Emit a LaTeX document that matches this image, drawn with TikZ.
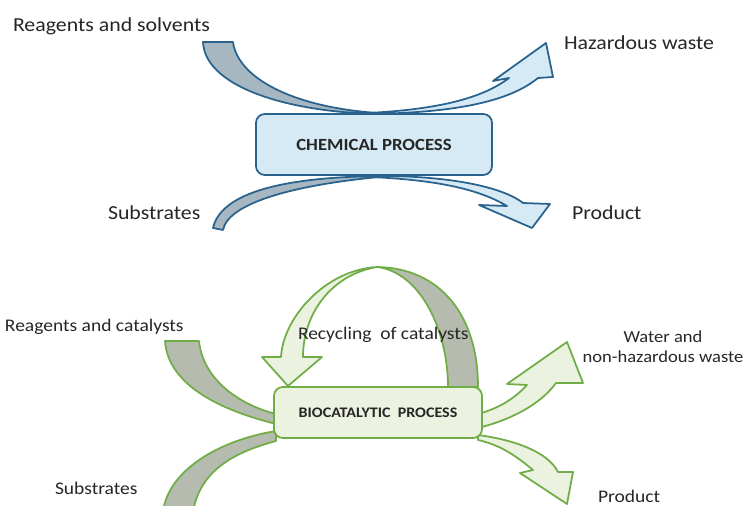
\documentclass[tikz,border=0pt]{standalone}
\usepackage{fontspec}
\setmainfont{Carlito}[FakeStretch=1.1]
\definecolor{chemline}{RGB}{41,98,140}
\definecolor{chemfill}{RGB}{214,234,246}
\definecolor{chemgrey}{RGB}{166,183,194}
\definecolor{bioline}{RGB}{112,173,71}
\definecolor{biofill}{RGB}{236,242,224}
\definecolor{biogrey}{RGB}{182,187,175}
\definecolor{labeltext}{RGB}{38,38,38}

\begin{document}
\begin{tikzpicture}[
	x=0.02cm, y=-0.02cm,
	chemarrow/.style={draw=chemline, fill=chemfill, line width=1pt, line join=round},
	chemband/.style={draw=chemline, fill=chemgrey, line width=1pt, line join=round},
	bioarrow/.style={draw=bioline, fill=biofill, line width=1pt, line join=round},
	bioband/.style={draw=bioline, fill=biogrey, line width=1pt, line join=round},
	process/.style={rectangle, rounded corners=5pt, line width=1pt, inner sep=0pt},
	every node/.style={outer sep=0pt, text=labeltext},
]
\useasboundingbox (0,0) rectangle (748,506);
% Input 1: node name, input 2: base west point.
\def\toplabel(#1)#2#3{
	\node[anchor=base west, inner sep=0pt, font=\fontsize{11.3}{13}\selectfont]
		(#1) at #2 {#3};
}
\def\botlabel(#1)#2#3{
	\node[anchor=base west, inner sep=0pt, font=\fontsize{10.1}{12}\selectfont]
		(#1) at #2 {#3};
}

	% chemical process: incoming and outgoing flows
	\path[chemband] (203,42) -- (233,42)
		.. controls (238,80) and (300,112) .. (400,114)
		.. controls (300,116) and (205,90) .. (203,42) -- cycle;
	\path[chemarrow] (340,114)
		.. controls (430,112) and (480,100) .. (509,78)
		-- (493,81) -- (546,43) -- (553,77) -- (538,78)
		.. controls (505,105) and (440,115) .. (340,114) -- cycle;
	\path[chemband] (213,228) -- (223,230)
		.. controls (228,203) and (295,184) .. (390,176)
		.. controls (300,176) and (222,188) .. (213,228) -- cycle;
	\path[chemarrow] (370,176)
		.. controls (440,175) and (500,185) .. (523,203)
		-- (550,204) -- (532,228) -- (479,205) -- (507,206)
		.. controls (480,190) and (440,180) .. (370,177) -- cycle;

	\node[process, draw=chemline, fill=chemfill, minimum width=4.72cm,
		minimum height=1.22cm] (chem) at (374,144.5) {};
	\node[font=\fontsize{9.7}{12}\selectfont\bfseries] (chemtext) at (chem)
		{CHEMICAL PROCESS};

	\toplabel(solvents){(13,32)}{Reagents and solvents}
	\toplabel(hazwaste){(564,50)}{Hazardous waste}
	\toplabel(chemsub){(108,220)}{Substrates}
	\toplabel(chemprod){(572,220)}{Product}

	% biocatalytic process: recycling loop
	\path[bioband] (478,387)
		.. controls (478,315) and (440,268) .. (377,267)
		.. controls (420,272) and (448,330) .. (448,387) -- cycle;
	\path[bioarrow] (377,267)
		.. controls (325,270) and (283,318) .. (281,357)
		-- (262,357) -- (288,386) -- (322,357) -- (303,357)
		.. controls (303,315) and (330,275) .. (377,267) -- cycle;

	\path[bioband] (165,341) -- (199,341)
		.. controls (203,380) and (240,405) .. (276,414) -- (276,424)
		.. controls (220,410) and (168,385) .. (165,341) -- cycle;
	\path[bioband] (276,431)
		.. controls (220,440) and (168,470) .. (163,512) -- (193,512)
		.. controls (200,470) and (235,452) .. (276,441) -- cycle;
	\path[bioarrow] (478,414)
		.. controls (500,408) and (515,398) .. (527,385)
		-- (507,384) -- (567,342) -- (583,383) -- (556,383)
		.. controls (540,405) and (510,420) .. (478,428) -- cycle;
	\path[bioarrow] (478,435)
		.. controls (515,440) and (548,452) .. (558,472)
		-- (573,472) -- (567,504) -- (520,473) -- (533,470)
		.. controls (515,455) and (500,445) .. (478,440) -- cycle;

	\node[process, draw=bioline, fill=biofill, minimum width=4.16cm,
		minimum height=1.02cm] (bio) at (378,412.5) {};
	\node[font=\fontsize{8.3}{10}\selectfont\bfseries] (biotext) at (bio)
		{BIOCATALYTIC\ \ PROCESS};

	\botlabel(catalysts){(5,332)}{Reagents and catalysts}
	\botlabel(recycling){(298,340)}{Recycling\ \ of catalysts}
	\node[anchor=base, align=center, inner sep=0pt,
		font=\fontsize{9.6}{11.9}\selectfont]
		(water) at (663,363) {Water and\\non-hazardous waste};
	\botlabel(biosub){(55,495)}{Substrates}
	\botlabel(bioprod){(598,503)}{Product}
\end{tikzpicture}
\end{document}
